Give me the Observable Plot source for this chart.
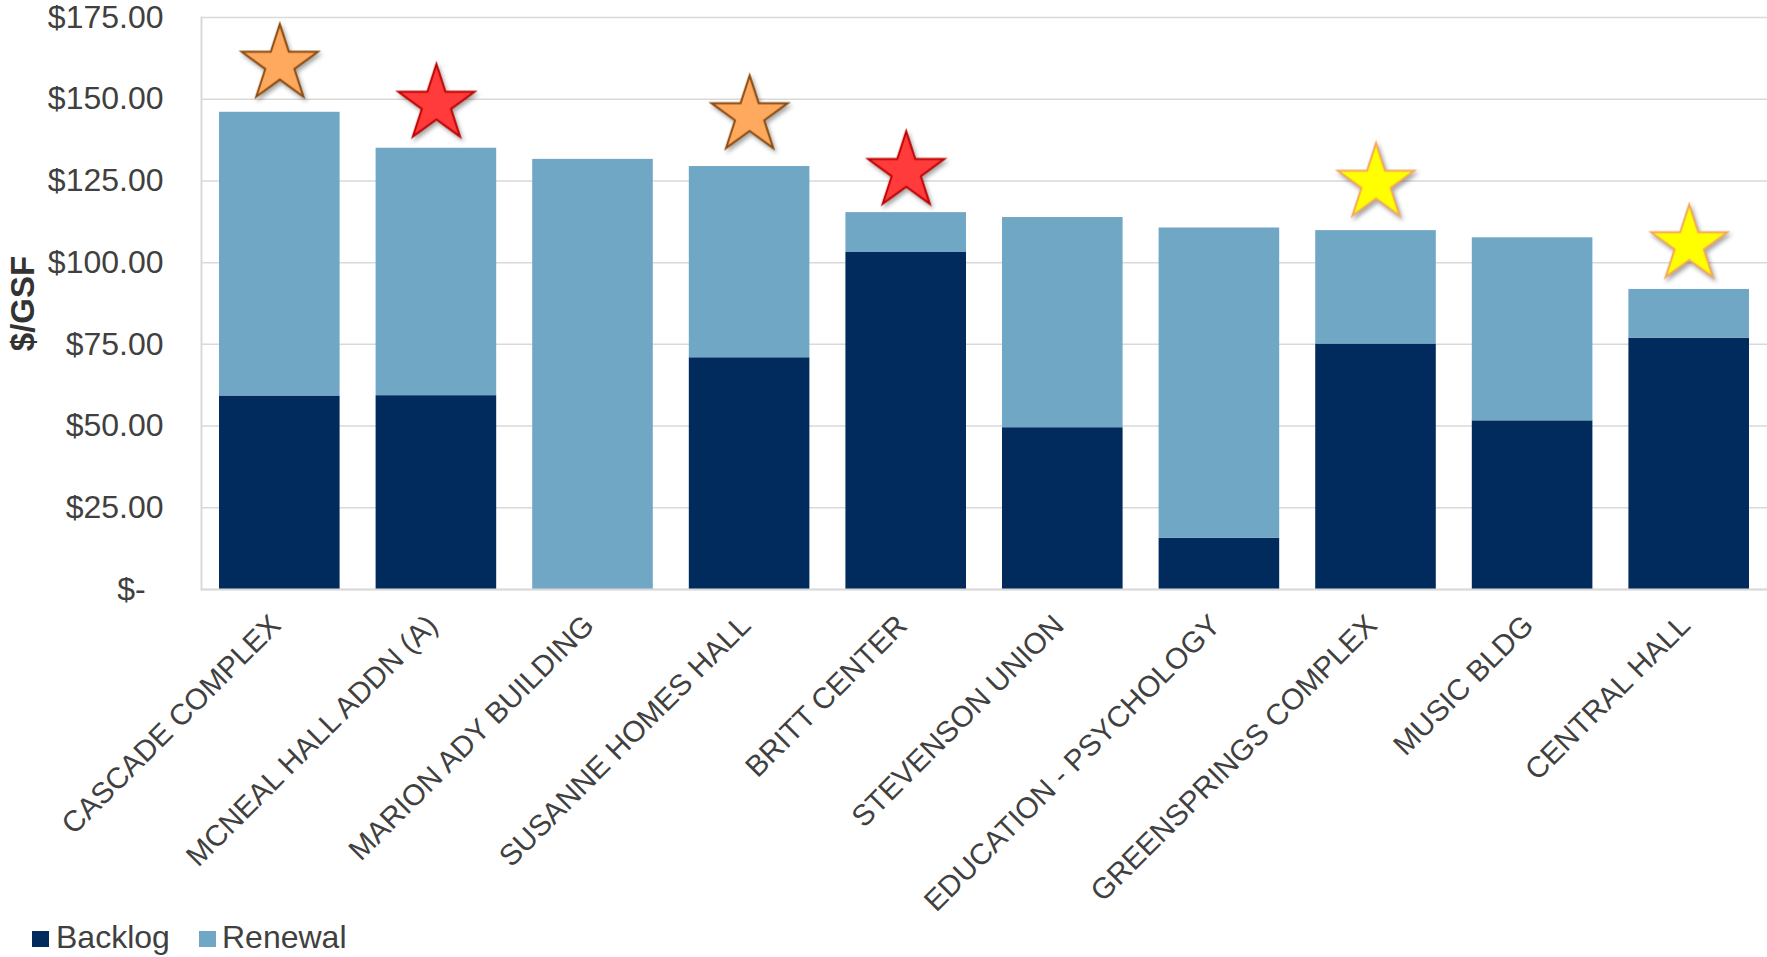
<!DOCTYPE html>
<html><head><meta charset="utf-8">
<script src="https://cdn.jsdelivr.net/npm/d3@7"></script>
<script src="https://cdn.jsdelivr.net/npm/@observablehq/plot@0.6"></script>
<style>
body{margin:0;background:#fff;}
#wrap{position:relative;width:1767px;height:957px;font-family:"Liberation Sans",Arial,sans-serif;color:#404040;overflow:hidden;}
#wrap svg{display:block;}
.sw{position:absolute;width:17px;height:16px;top:931px;}
.lt{position:absolute;top:921px;font-size:32px;line-height:32px;white-space:nowrap;}
</style></head><body><div id="wrap"></div>
<script>
const buildings = ["CASCADE COMPLEX","MCNEAL HALL ADDN (A)","MARION ADY BUILDING","SUSANNE HOMES HALL","BRITT CENTER","STEVENSON UNION","EDUCATION - PSYCHOLOGY","GREENSPRINGS COMPLEX","MUSIC BLDG","CENTRAL HALL"];
const backlog = [59.2, 59.3, 0, 70.9, 103.1, 49.5, 15.7, 75.1, 51.6, 76.9];
const renewal = [86.8, 75.7, 131.6, 58.5, 12.2, 64.3, 94.9, 34.7, 56.0, 14.9];
const seriesNames = ["Backlog","Renewal"];
const seriesColors = ["#002B5C","#6FA7C4"];
const yTicks = [0,25,50,75,100,125,150,175];
const starBuildings = ["CASCADE COMPLEX","MCNEAL HALL ADDN (A)","SUSANNE HOMES HALL","BRITT CENTER","GREENSPRINGS COMPLEX","CENTRAL HALL"];
const starLevels = [160.7, 148.5, 145.0, 127.9, 124.3, 105.5];
const starTiers = ["orange","red","orange","red","yellow","yellow"];
const tierNames = ["orange","red","yellow"];
const tierFill = {orange:"#FFA95E", red:"#FF3B3B", yellow:"#FFFF00"};
const tierStroke = {orange:"#8B4A0F", red:"#C00000", yellow:"#F5A95B"};

const rows = buildings.flatMap((b,i)=>[
  {building:b, series:seriesNames[0], value:backlog[i]},
  {building:b, series:seriesNames[1], value:renewal[i]}
]);
const stars = starBuildings.map((b,i)=>({building:b, level:starLevels[i], tier:starTiers[i]}));

const font = '"Liberation Sans", Arial, sans-serif';
const chart = Plot.plot({
  width:1767, height:930,
  marginTop:17, marginBottom:341, marginLeft:201, marginRight:0,
  style:{fontFamily:font, fontSize:"31px", color:"#404040", background:"#fff"},
  x:{domain:buildings, paddingInner:0.23, paddingOuter:0.115, round:false, axis:null},
  y:{domain:[0,175]},
  color:{domain:seriesNames, range:seriesColors},
  marks:[
    Plot.gridY(yTicks,{stroke:"#d9d9d9", strokeOpacity:1, strokeWidth:1.5}),
    Plot.axisY(yTicks,{tickSize:0, tickPadding:38, label:null, fontSize:32, fill:"#404040",
      tickFormat:d=> d===0 ? "$-\u00a0\u00a0" : "$"+d.toFixed(2)}),
    Plot.barY(rows,{x:"building", y:"value", fill:"series"}),
    Plot.frame({anchor:"left", stroke:"#d9d9d9", strokeWidth:2}),
    Plot.ruleY([0],{stroke:"#d9d9d9", strokeWidth:2}),
    ...tierNames.map(t=>Plot.dot(stars.filter(d=>d.tier===t),{x:"building", y:"level", symbol:"star", r:24,
      fill:tierFill[t], stroke:tierStroke[t], strokeWidth:2})),
    Plot.text(buildings,{x:d=>d, text:d=>d, frameAnchor:"bottom", dy:31, dx:-4, rotate:-45,
      textAnchor:"end", lineAnchor:"middle", fontSize:29.5, fill:"#404040"}),
    Plot.text(["$/GSF"],{frameAnchor:"left", dx:-178, rotate:-90, textAnchor:"middle", lineAnchor:"middle",
      fontSize:33, fontWeight:"bold", fill:"#333"})
  ]
});
d3.select(chart).selectAll('g[aria-label="dot"]').style("filter","drop-shadow(2px 3px 2px rgba(0,0,0,0.35))");
const wrap = document.getElementById("wrap");
wrap.appendChild(chart);
const legendX = [{sq:32, tx:56},{sq:199, tx:222}];
seriesNames.forEach((s,i)=>{
  const sq = document.createElement("div"); sq.className="sw"; sq.style.left=legendX[i].sq+"px"; sq.style.background=seriesColors[i];
  const tx = document.createElement("div"); tx.className="lt"; tx.style.left=legendX[i].tx+"px"; tx.textContent=s;
  wrap.appendChild(sq); wrap.appendChild(tx);
});
</script></body></html>
